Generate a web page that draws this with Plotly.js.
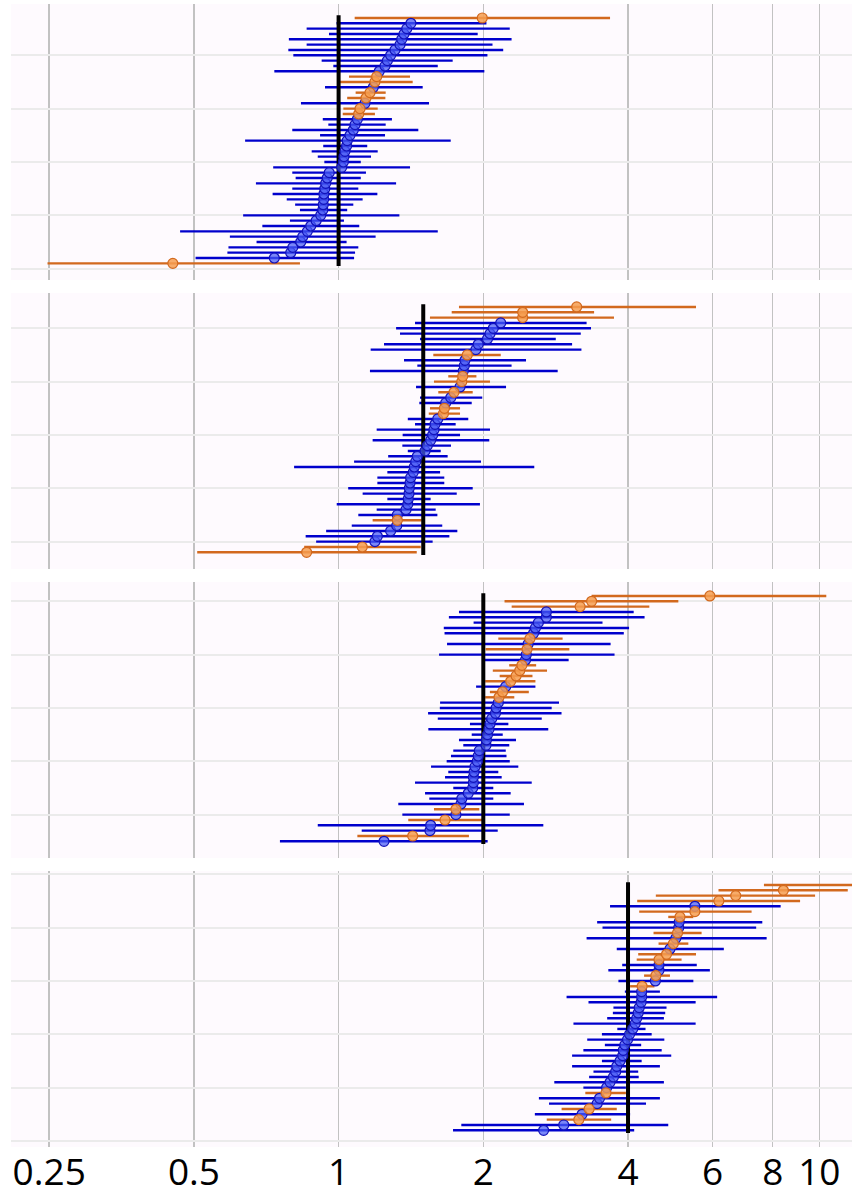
<!DOCTYPE html>
<html>
<head>
<meta charset="utf-8">
<script src="https://cdn.plot.ly/plotly-3.0.1.min.js"></script>
<style>html,body{margin:0;padding:0;background:#fff;}#chart{width:852px;height:1196px;}</style>
</head>
<body>
<div id="chart"></div>
<script>
// Tick labels of the shared log x axis
const tickValues = [0.25, 0.5, 1, 2, 4, 6, 8, 10];
const tickLabels = ["0.25", "0.5", "1", "2", "4", "6", "8", "10"];

// Reference value (black vertical line) of each panel, top to bottom
const refValues = [1, 1.5, 2, 4];

// Panel 1 (rows listed bottom to top): estimate, lower, upper, group (B = blue, O = orange)
const p1Est = [0.452,0.735,0.795,0.803,0.834,0.842,0.861,0.875,0.898,0.918,0.927,0.929,0.931,0.932,0.936,0.940,0.947,0.956,1.015,1.023,1.026,1.031,1.039,1.042,1.056,1.073,1.082,1.094,1.101,1.108,1.135,1.140,1.162,1.181,1.190,1.200,1.215,1.249,1.263,1.283,1.310,1.342,1.353,1.368,1.386,1.414,1.990];
const p1Lo  = [0.248,0.504,0.587,0.590,0.675,0.594,0.468,0.694,0.792,0.633,0.831,0.812,0.780,0.729,0.801,0.673,0.814,0.801,0.731,0.934,0.905,0.879,0.929,0.639,0.915,0.801,0.952,0.927,1.020,1.023,0.835,1.042,1.085,0.937,1.003,1.051,0.735,0.975,0.922,0.805,0.786,0.858,0.788,0.955,0.858,0.990,1.080];
const p1Hi  = [0.831,1.077,1.082,1.099,1.039,1.194,1.608,1.104,1.026,1.338,1.042,1.073,1.122,1.204,1.099,1.317,1.112,1.140,1.408,1.112,1.168,1.206,1.147,1.711,1.249,1.465,1.253,1.291,1.190,1.206,1.542,1.251,1.253,1.496,1.426,1.408,2.010,1.608,1.727,2.040,2.200,2.090,2.290,1.947,2.270,2.030,3.670];
const p1Grp = "OBBBBBBBBB" + "BBBBBBBBBB" + "BBBBBBBBOO" + "BOOBOOBBBB" + "BBBBBBO";

// Panel 2
const p2Est = [0.858,1.120,1.190,1.204,1.283,1.321,1.325,1.325,1.381,1.393,1.396,1.401,1.403,1.408,1.412,1.430,1.437,1.447,1.458,1.513,1.529,1.554,1.569,1.579,1.587,1.608,1.652,1.660,1.670,1.711,1.738,1.789,1.804,1.812,1.817,1.826,1.832,1.852,1.930,1.952,2.040,2.065,2.098,2.174,2.415,2.415,3.128];
const p2Lo  = [0.508,0.848,0.898,0.854,0.942,1.065,1.177,1.099,1.200,0.991,1.263,1.122,1.047,1.204,1.204,1.263,0.808,1.077,1.268,1.393,1.357,1.177,1.359,1.200,1.442,1.393,1.540,1.549,1.472,1.477,1.612,1.449,1.579,1.691,1.162,1.458,1.368,1.574,1.166,1.243,1.477,1.342,1.317,1.442,1.549,1.719,1.780];
const p2Hi  = [1.454,1.482,1.569,1.700,1.766,1.643,1.489,1.605,1.592,1.968,1.554,1.761,1.901,1.659,1.659,1.626,2.553,1.978,1.686,1.631,1.713,2.058,1.789,2.065,1.752,1.861,1.789,1.789,1.892,1.990,1.901,2.230,2.065,1.935,2.856,2.290,2.454,2.174,3.200,3.060,2.830,3.190,3.350,3.280,3.740,3.400,5.540];
const p2Grp = "OOBBBBOBBB" + "BBBBBBBBBB" + "BBBBBBOOBB" + "OBOOBBBOBB" + "BBBBOOO";

// Panel 3
const p3Est = [1.243,1.426,1.549,1.554,1.665,1.754,1.754,1.797,1.804,1.861,1.901,1.907,1.907,1.913,1.922,1.943,1.952,1.962,2.026,2.030,2.040,2.055,2.065,2.082,2.120,2.127,2.149,2.156,2.193,2.226,2.280,2.340,2.381,2.406,2.448,2.457,2.466,2.479,2.500,2.544,2.567,2.603,2.705,2.705,3.180,3.360,5.920];
const p3Lo  = [0.755,1.094,1.117,0.905,1.396,1.357,1.579,1.331,1.544,1.513,1.732,1.442,1.665,1.691,1.557,1.678,1.713,1.732,1.817,1.780,1.892,1.537,1.876,1.608,1.535,1.624,1.626,2.018,2.064,1.932,2.018,2.163,2.093,2.264,1.994,1.618,2.022,1.681,2.149,1.661,1.655,1.909,1.696,1.780,2.291,2.214,3.360];
const p3Hi  = [2.042,1.867,2.143,2.666,1.990,2.270,1.962,2.430,2.098,2.280,2.098,2.522,2.184,2.149,2.365,2.270,2.235,2.227,2.265,2.339,2.195,2.730,2.255,2.646,2.909,2.775,2.874,2.320,2.487,2.567,2.567,2.531,2.714,2.576,3.010,3.750,3.020,3.680,2.924,3.920,4.020,3.540,4.330,4.110,4.430,5.090,10.340];
const p3Grp = "BOBBOBOBBB" + "BBBBBBBBBB" + "BBBBBBBOOB" + "OOOOBBOBOB" + "BBBBOOO";

// Panel 4
const p4Est = [2.67,2.94,3.16,3.21,3.32,3.45,3.49,3.60,3.61,3.67,3.73,3.77,3.79,3.85,3.90,3.91,3.94,3.99,4.03,4.09,4.14,4.17,4.20,4.22,4.26,4.27,4.27,4.28,4.56,4.57,4.64,4.64,4.64,4.81,4.89,4.97,5.03,5.07,5.10,5.11,5.13,5.51,5.51,6.18,6.70,8.42,13.0];
const p4Lo  = [1.73,1.80,2.71,2.56,2.91,2.74,2.61,3.26,3.23,2.81,3.32,3.39,3.06,3.53,3.06,3.23,3.58,3.29,3.53,3.80,3.08,3.62,3.72,3.73,3.31,2.98,3.94,4.04,3.82,4.32,3.64,3.89,4.17,4.20,3.79,4.63,3.28,4.52,3.54,3.45,4.85,4.22,3.67,4.18,4.57,6.17,7.67];
const p4Hi  = [4.12,4.85,3.69,4.04,3.79,4.36,4.66,3.96,3.96,4.75,4.21,4.20,4.66,4.27,4.92,4.70,4.26,4.76,4.48,4.35,5.53,4.75,4.78,4.81,5.53,6.13,4.66,4.54,5.47,4.89,5.92,5.56,5.17,5.54,6.33,5.34,7.77,5.69,7.39,7.61,5.47,7.23,8.31,9.12,9.80,11.46,22.0];
const p4Grp = "BBOBOBBOBB" + "BBBBBBBBBB" + "BBBBBBBOBO" + "BBOOBOBOBB" + "OOBOOOO";

const panels = [
  {est: p1Est, lo: p1Lo, hi: p1Hi, grp: p1Grp},
  {est: p2Est, lo: p2Lo, hi: p2Hi, grp: p2Grp},
  {est: p3Est, lo: p3Lo, hi: p3Hi, grp: p3Grp},
  {est: p4Est, lo: p4Lo, hi: p4Hi, grp: p4Grp}
];

const style = {
  B: {bar: "#0000cc", fill: "rgba(70,90,245,0.72)", edge: "#1212b8"},
  O: {bar: "#d2691e", fill: "rgba(246,158,80,0.85)", edge: "#d2691e"}
};

const domains = [[0.7585, 1.0], [0.50567, 0.74717], [0.25283, 0.49433], [0.0, 0.2415]];
const tickStarts = [0, 3, 6, 9];
const xRange = [-0.6815, 1.068];
const yRange = [-2.13, 49.62];

const traces = [];
const layout = {
  width: 852, height: 1196,
  margin: {l: 11, r: 0, t: 4, b: 49},
  paper_bgcolor: "#ffffff",
  plot_bgcolor: "#fefafe",
  showlegend: false,
  hovermode: false
};

panels.forEach((p, k) => {
  const n = k + 1;
  const xa = n === 1 ? "x" : "x" + n;
  const ya = n === 1 ? "y" : "y" + n;
  const groupData = {};
  ["B", "O"].forEach(g => {
    const d = {x: [], y: [], plus: [], minus: []};
    p.est.forEach((v, i) => {
      if (p.grp[i] === g) {
        d.x.push(v);
        d.y.push(i + 1);
        d.plus.push(p.hi[i] - v);
        d.minus.push(v - p.lo[i]);
      }
    });
    groupData[g] = d;
  });
  // error bars (under)
  ["B", "O"].forEach(g => {
    const d = groupData[g];
    traces.push({
      type: "scatter", mode: "markers", xaxis: xa, yaxis: ya,
      x: d.x, y: d.y,
      marker: {size: 2, opacity: 0},
      error_x: {type: "data", symmetric: false, array: d.plus, arrayminus: d.minus,
                color: style[g].bar, thickness: 2.4, width: 0}
    });
  });
  // reference line
  traces.push({
    type: "scatter", mode: "lines", xaxis: xa, yaxis: ya,
    x: [refValues[k], refValues[k]], y: [0.5, p.est.length + 0.5],
    line: {color: "#000000", width: 4}
  });
  // markers (over)
  ["B", "O"].forEach(g => {
    const d = groupData[g];
    traces.push({
      type: "scatter", mode: "markers", xaxis: xa, yaxis: ya,
      x: d.x, y: d.y,
      marker: {size: 10, color: style[g].fill, line: {color: style[g].edge, width: 1.2}}
    });
  });

  const xKey = n === 1 ? "xaxis" : "xaxis" + n;
  const yKey = n === 1 ? "yaxis" : "yaxis" + n;
  layout[xKey] = {
    type: "log", range: xRange, anchor: ya,
    tickmode: "array", tickvals: tickValues, ticktext: tickLabels,
    showticklabels: n === 4, ticks: "",
    tickfont: {family: "Open Sans, Liberation Sans, sans-serif", size: 37, color: "#000"},
    showgrid: true, gridcolor: "#c2c2c2", gridwidth: 1.5,
    zeroline: false, showline: false, fixedrange: true
  };
  layout[yKey] = {
    domain: domains[k], range: yRange, anchor: xa,
    tick0: tickStarts[k], dtick: 10, showticklabels: false, ticks: "",
    showgrid: true, gridcolor: "#ebebeb", gridwidth: 2,
    zeroline: false, showline: false, fixedrange: true
  };
});

Plotly.newPlot("chart", traces, layout, {staticPlot: true, displayModeBar: false});
</script>
</body>
</html>
